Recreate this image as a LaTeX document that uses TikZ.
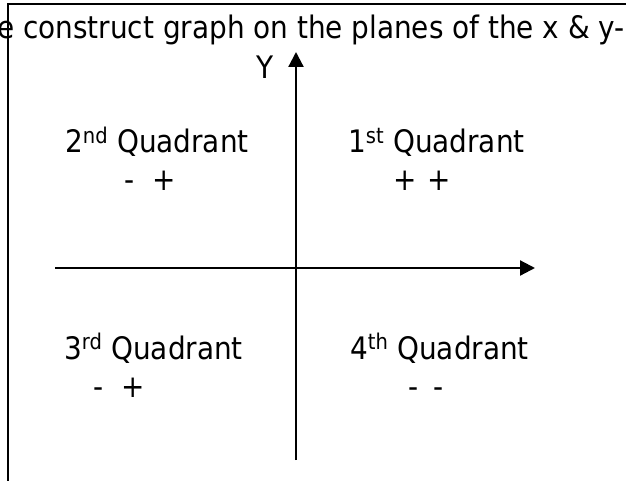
\documentclass[tikz,border=0pt]{standalone}
\usepackage{fontspec}
\setmainfont{DejaVu Sans Condensed}
\usetikzlibrary{arrows.meta}
\begin{document}
\begin{tikzpicture}[x=1pt,y=-1pt,
  lbl/.style={inner sep=0pt, anchor=base west, font=\fontsize{31}{36}\selectfont},
  axis/.style={line width=2.2pt, -{Triangle[length=15pt,width=15pt]}},
  frame/.style={line width=1.8pt}]
\useasboundingbox (0,0) rectangle (626,481);
% frame of the text box
\coordinate (fbl) at (8,495);
\coordinate (ftl) at (8,4);
\coordinate (ftr) at (640,4);
\draw[frame] (fbl) -- (ftl) -- (ftr);
% title line
\node[lbl] (title) at (-3,39) {e construct graph on the planes of the x \& y-};
% axes
\coordinate (ybot) at (296,460);
\coordinate (ytop) at (296,52);
\coordinate (xleft) at (55,268);
\coordinate (xright) at (535,268);
\draw[axis] (ybot) -- (ytop);
\draw[axis] (xleft) -- (xright);
\node[lbl] (ylab) at (256,79) {Y};
% quadrants
\node[lbl] (q2) at (65,153) {2\textsuperscript{nd} Quadrant};
\node[lbl] (s2) at (124,191) {-\hspace{0.6em}+};
\node[lbl] (q1) at (348,153) {1\textsuperscript{st} Quadrant};
\node[lbl] (s1) at (393,191) {+\hspace{0.35em}+};
\node[lbl] (q3) at (64,359) {3\textsuperscript{rd} Quadrant};
\node[lbl] (s3) at (93,397) {-\hspace{0.6em}+};
\node[lbl] (q4) at (350,359) {4\textsuperscript{th} Quadrant};
\node[lbl] (s4) at (408,397) {-\hspace{0.5em}-};
\end{tikzpicture}
\end{document}
